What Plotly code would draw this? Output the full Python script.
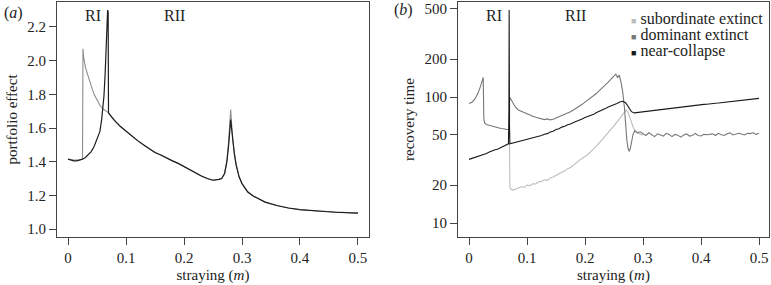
import numpy as np
import plotly.graph_objects as go

# ---------------- data: panel (a) portfolio effect ----------------
pe_dark_x = [0, 0.005, 0.01, 0.015, 0.02, 0.025, 0.03, 0.035, 0.04, 0.045, 0.05, 0.055,
             0.058, 0.06, 0.062, 0.064, 0.066, 0.0675, 0.0683, 0.0692, 0.0698,
             0.075, 0.08, 0.09, 0.10, 0.11, 0.12, 0.13, 0.14, 0.15, 0.16, 0.17, 0.18, 0.19,
             0.20, 0.21, 0.22, 0.23, 0.24, 0.25, 0.26, 0.265, 0.27, 0.274, 0.277, 0.279,
             0.2805, 0.282, 0.284, 0.287, 0.29, 0.295, 0.30, 0.31, 0.32, 0.34, 0.36, 0.38,
             0.40, 0.43, 0.46, 0.50]
pe_dark_y = [1.415, 1.41, 1.405, 1.405, 1.41, 1.415, 1.425, 1.44, 1.46, 1.49, 1.53, 1.58,
             1.65, 1.71, 1.79, 1.92, 2.07, 2.20, 2.30, 2.29, 1.69,
             1.665, 1.645, 1.61, 1.58, 1.55, 1.525, 1.50, 1.475, 1.455, 1.44, 1.42, 1.405, 1.39,
             1.37, 1.35, 1.33, 1.315, 1.30, 1.29, 1.295, 1.30, 1.33, 1.40, 1.50, 1.58,
             1.65, 1.60, 1.52, 1.44, 1.38, 1.31, 1.27, 1.22, 1.195, 1.16, 1.14, 1.125,
             1.115, 1.107, 1.10, 1.095]

pe_light_x = [0, 0.01, 0.02, 0.025, 0.0258, 0.027, 0.03, 0.035, 0.04, 0.045, 0.05, 0.055,
              0.06, 0.065, 0.0698,
              0.075, 0.08, 0.09, 0.10, 0.11, 0.12, 0.13, 0.14, 0.15, 0.16, 0.17, 0.18, 0.19,
              0.20, 0.21, 0.22, 0.23, 0.24, 0.25, 0.26, 0.265, 0.27, 0.274, 0.277, 0.279,
              0.2805, 0.282, 0.284, 0.287, 0.29, 0.295, 0.30, 0.31, 0.32, 0.34, 0.36, 0.38,
              0.40, 0.43, 0.46, 0.50]
pe_light_y = [1.415, 1.41, 1.41, 1.415, 2.07, 2.02, 1.96, 1.90, 1.85, 1.80, 1.765, 1.735,
              1.715, 1.70, 1.69,
              1.665, 1.645, 1.61, 1.58, 1.55, 1.525, 1.50, 1.475, 1.455, 1.44, 1.42, 1.405, 1.39,
              1.37, 1.35, 1.33, 1.315, 1.30, 1.29, 1.295, 1.30, 1.33, 1.41, 1.52, 1.62,
              1.71, 1.63, 1.53, 1.45, 1.38, 1.31, 1.27, 1.22, 1.195, 1.16, 1.14, 1.125,
              1.115, 1.107, 1.10, 1.095]

# ---------------- data: panel (b) recovery time ----------------
def grid(a, b, step=0.005):
    return list(np.round(np.arange(a, b + step / 2, step), 4))

near_x = grid(0.0, 0.065) + [0.068, 0.0688, 0.0692, 0.0698, 0.0705] + grid(0.075, 0.5)
near_y = [32, 32.5, 33.2, 33.5, 34.3, 35, 35.6, 36.6, 37.1, 38.1, 38.7, 39.7, 40.4, 41.5,
          42.5, 80, 490, 60, 42.5,
          43, 43.9, 44.1, 45.1, 45.3, 46.3, 46.5, 47.5, 47.8, 48.9,
          49.4, 50.7, 51.2, 52.7, 53.5, 55.2, 56, 57.7, 58.5, 60.3,
          61.1, 62.8, 63.9, 65.8, 66.9, 68.8, 69.9, 71.9, 73.1, 75.3,
          76.9, 79.3, 80.9, 83.3, 84.9, 87.3, 88.9, 91.3, 92.6, 90,
          82.5, 76.5, 74.8, 75.3, 76, 76.3, 77.1, 77.3, 78.1, 78.3,
          79.2, 79.3, 80.2, 80.4, 81.3, 81.4, 82.3, 82.5, 83.3, 83.4,
          84.4, 84.5, 85.3, 85.6, 86.3, 86.5, 87.4, 87.5, 88.4, 88.6,
          89.3, 89.7, 90.3, 90.7, 91.3, 91.8, 92.4, 92.9, 93.5, 94,
          94.7, 95.2, 95.8, 96.4, 96.9, 97.6]

dom_x = ([0, 0.005, 0.01, 0.015, 0.02, 0.023, 0.0245, 0.0255, 0.027, 0.03, 0.035, 0.04,
          0.045, 0.05, 0.055, 0.06, 0.065, 0.0695, 0.0698]
         + grid(0.07, 0.25)
         + [0.253, 0.256, 0.259, 0.262, 0.265, 0.268, 0.270, 0.272, 0.274, 0.276, 0.278,
            0.280, 0.283, 0.286, 0.290, 0.295]
         + grid(0.30, 0.5))
dom_y = ([89, 91, 96, 106, 122, 136, 143, 68, 62, 60.5, 59.5, 58.8, 57.5, 57.2, 56.3, 56,
          55.2, 55.5, 56]
         + [100, 90, 83, 79, 77, 75.5, 74, 72, 70.5, 69, 68, 67.5, 66.2, 67, 65.8, 66.5,
            68, 69.5, 71, 72.5, 74.5, 76.5, 79, 81.5, 84.5, 87.5, 91, 94.5, 98, 102.5,
            107, 113, 118, 125, 131, 139, 145]
         + [152, 143, 149, 131, 110, 82, 60, 46, 39.5, 37, 39, 45, 51, 54, 52, 53]
         + [51, 49.5, 52, 50.5, 48.5, 51, 50, 49, 51.5, 50.5,
            48.5, 50.5, 49.8, 48, 50, 51, 49, 49.5, 51.5, 49.5,
            49, 50.5, 50.2, 50.5, 51, 49.5, 51.5, 50.2, 49.5, 51,
            52, 50, 50.5, 51.5, 50.8, 50, 51.5, 51.2, 52, 50.5, 51.5])

sub_x = ([0.0698, 0.0705] + grid(0.075, 0.265)
         + [0.268, 0.271, 0.274, 0.277, 0.280, 0.284, 0.288, 0.292, 0.296, 0.300])
sub_y = ([44, 19]
         + [18.2, 18.6, 18.9, 19.4, 19.2, 20, 19.8, 20.5, 20.4, 21.2,
            21.4, 22, 21.8, 22.8, 23.2, 24, 24.6, 25.3, 25.9, 27,
            27.6, 29, 30, 31.4, 32.5, 34, 35, 36.8, 38.5, 41,
            43.5, 46, 49, 52, 55.5, 59, 63.5, 68, 73]
         + [77, 79, 76, 69, 62, 56, 53, 51.5, 50.5, 50])

series_names = ["subordinate extinct", "dominant extinct", "near-collapse"]
series_colors = ["#bdbdbd", "#777777", "#1a1a1a"]

yticks_a = [1.0, 1.2, 1.4, 1.6, 1.8, 2.0, 2.2]
yticks_b = [10, 20, 50, 100, 200, 500]
xticks = [0, 0.1, 0.2, 0.3, 0.4, 0.5]

# ---------------- figure ----------------
W, H = 771, 285
FONT = "Liberation Serif"
fig = go.Figure()

fig.add_trace(go.Scatter(x=pe_light_x, y=pe_light_y, mode="lines",
                         line=dict(color="#8c8c8c", width=1.1), showlegend=False,
                         xaxis="x", yaxis="y"))
fig.add_trace(go.Scatter(x=pe_dark_x, y=pe_dark_y, mode="lines",
                         line=dict(color="#1e1e1e", width=1.2), showlegend=False,
                         xaxis="x", yaxis="y"))

for xs, ys, name, col in [(sub_x, sub_y, series_names[0], series_colors[0]),
                          (dom_x, dom_y, series_names[1], series_colors[1]),
                          (near_x, near_y, series_names[2], series_colors[2])]:
    fig.add_trace(go.Scatter(x=xs, y=ys, mode="lines", name=name,
                             line=dict(color=col, width=1.1), showlegend=False,
                             xaxis="x2", yaxis="y2"))

def px_x(p):
    return p / W

def px_y(p):
    return 1 - p / H

axis_common = dict(showline=True, mirror=True, linecolor="#444", linewidth=1,
                   ticks="outside", ticklen=7, tickcolor="#444", tickwidth=1,
                   showgrid=False, zeroline=False, automargin=False,
                   tickfont=dict(family=FONT, size=15, color="#222"))

fig.update_layout(
    width=W, height=H, margin=dict(l=0, r=0, t=0, b=0),
    paper_bgcolor="white", plot_bgcolor="white",
    font=dict(family=FONT, size=15, color="#222"),
    xaxis=dict(domain=[px_x(57), px_x(369)], range=[-0.019, 0.519],
               tickvals=xticks, ticktext=[f"{v:g}" for v in xticks],
               title=dict(text="straying (<i>m</i>)", standoff=4,
                          font=dict(family=FONT, size=15)),
               anchor="y", **axis_common),
    yaxis=dict(domain=[px_y(237), px_y(2)], range=[0.953, 2.348],
               tickvals=yticks_a, ticktext=[f"{v:.1f}" for v in yticks_a],
               title=dict(text="portfolio effect", standoff=6,
                          font=dict(family=FONT, size=15)),
               anchor="x", **axis_common),
    xaxis2=dict(domain=[px_x(458), px_x(769)], range=[-0.019, 0.5172],
                tickvals=xticks, ticktext=[f"{v:g}" for v in xticks],
                title=dict(text="straying (<i>m</i>)", standoff=4,
                           font=dict(family=FONT, size=15)),
                anchor="y2", **axis_common),
    yaxis2=dict(domain=[px_y(237), px_y(2)], type="log", range=[0.889, 2.754],
                tickvals=yticks_b, ticktext=[str(v) for v in yticks_b],
                title=dict(text="recovery time", standoff=6,
                           font=dict(family=FONT, size=15)),
                anchor="x2", **axis_common),
)

ann = []
# panel letters
ann.append(dict(text="(<i>a</i>)", x=px_x(2), y=px_y(13), xref="paper", yref="paper",
                xanchor="left", yanchor="middle", showarrow=False,
                font=dict(family=FONT, size=16, color="#222")))
ann.append(dict(text="(<i>b</i>)", x=px_x(392), y=px_y(10), xref="paper", yref="paper",
                xanchor="left", yanchor="middle", showarrow=False,
                font=dict(family=FONT, size=16, color="#222")))
# regime labels
for xr in ["x", "x2"]:
    ann.append(dict(text="RI", x=0.043, y=px_y(16), xref=xr, yref="paper",
                    xanchor="center", yanchor="middle", showarrow=False,
                    font=dict(family=FONT, size=16, color="#222")))
    ann.append(dict(text="RII", x=0.184, y=px_y(16), xref=xr, yref="paper",
                    xanchor="center", yanchor="middle", showarrow=False,
                    font=dict(family=FONT, size=16, color="#222")))
# legend (panel b)
for i, (name, col) in enumerate(zip(series_names, series_colors)):
    ann.append(dict(text=f"<span style='color:{col};font-size:9px'>■</span> {name}",
                    x=px_x(629), y=px_y(19 + 16 * i), xref="paper", yref="paper",
                    xanchor="left", yanchor="middle", showarrow=False,
                    font=dict(family=FONT, size=16, color="#222")))
fig.update_layout(annotations=ann)

fig.write_html("out.html", config={"displayModeBar": False},
               post_script="document.body.style.margin='0';document.body.style.padding='0';")
